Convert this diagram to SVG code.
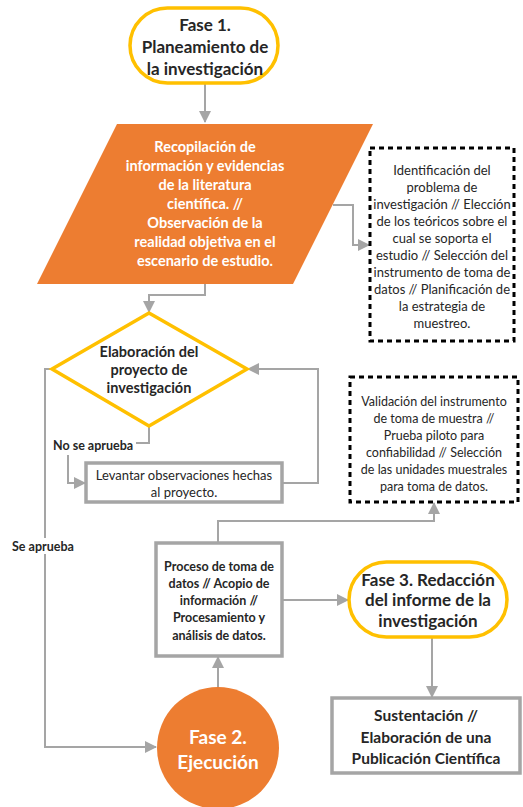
<svg xmlns="http://www.w3.org/2000/svg" width="523" height="807" viewBox="0 0 523 807">
<defs>
<marker id="ah" markerUnits="userSpaceOnUse" markerWidth="12" markerHeight="12" viewBox="0 0 12 12" refX="11" refY="6" orient="auto">
<path d="M0,0 L12,6 L0,12 Z" fill="#A5A5A5"/>
</marker>
</defs>
<style>
text{font-family:Lato,"Open Sans","Liberation Sans",sans-serif;text-anchor:middle;fill:#262626}
.b{font-weight:bold}
.w{fill:#FFFFFF;font-weight:bold}
.stad{fill:#FFFFFF;stroke:#FFC000;stroke-width:3.5}
.gbox{fill:#FFFFFF;stroke:#A5A5A5;stroke-width:3.5}
.dash{fill:#FFFFFF;stroke:#000000;stroke-width:3;stroke-dasharray:5 4}
.c{fill:none;stroke:#A5A5A5;stroke-width:2}
.lbl{font-weight:bold;font-size:12.5px;text-anchor:start}
</style>
<rect width="523" height="807" fill="#FFFFFF"/>
<g id="connectors">
<path class="c" d="M205,83 V122" marker-end="url(#ah)"/>
<path class="c" d="M333,205 H353 V245 H369" marker-end="url(#ah)"/>
<path class="c" d="M205,284 V295 H149 V312" marker-end="url(#ah)"/>
<path class="c" d="M149,426 V443 H136"/>
<path class="c" d="M68,455 V483 H85" marker-end="url(#ah)"/>
<path class="c" d="M282,483 H318 V369 H248" marker-end="url(#ah)"/>
<path class="c" d="M52,369 H45 V747 H156" marker-end="url(#ah)"/>
<path class="c" d="M218,687 V657" marker-end="url(#ah)"/>
<path class="c" d="M218,543 V521 H434 V503" marker-end="url(#ah)"/>
<path class="c" d="M282,600 H348" marker-end="url(#ah)"/>
<path class="c" d="M432,637 V697" marker-end="url(#ah)"/>
</g>
<g id="fase1">
<rect class="stad" x="130" y="8" width="148" height="75" rx="37.5"/>
<text class="b" font-size="17" x="205" y="31">Fase 1.</text>
<text class="b" font-size="17" x="205" y="53">Planeamiento de</text>
<text class="b" font-size="17" x="205" y="75">la investigación</text>
</g>
<g id="recopilacion">
<polygon points="117,124 373,124 293,284 37,284" fill="#ED7D31"/>
<text class="w" font-size="14.5" x="205" y="152">Recopilación de</text>
<text class="w" font-size="14.5" x="205" y="171">información y evidencias</text>
<text class="w" font-size="14.5" x="205" y="190">de la literatura</text>
<text class="w" font-size="14.5" x="205" y="209">científica. //</text>
<text class="w" font-size="14.5" x="205" y="228">Observación de la</text>
<text class="w" font-size="14.5" x="205" y="247">realidad objetiva en el</text>
<text class="w" font-size="14.5" x="205" y="266">escenario de estudio.</text>
</g>
<g id="nota1">
<rect class="dash" x="370" y="148" width="144" height="193"/>
<text font-size="13" x="442" y="175">Identificación del</text>
<text font-size="13" x="442" y="192">problema de</text>
<text font-size="13" x="442" y="209">investigación // Elección</text>
<text font-size="13" x="442" y="226">de los teóricos sobre el</text>
<text font-size="13" x="442" y="243">cual se soporta el</text>
<text font-size="13" x="442" y="260">estudio // Selección del</text>
<text font-size="13" x="442" y="277">instrumento de toma de</text>
<text font-size="13" x="442" y="294">datos // Planificación de</text>
<text font-size="13" x="442" y="311">la estrategia de</text>
<text font-size="13" x="442" y="328">muestreo.</text>
</g>
<g id="elaboracion">
<polygon points="149,313 247,369 149,426 52,369" fill="#FFFFFF" stroke="#FFC000" stroke-width="3.5" stroke-linejoin="miter"/>
<text class="b" font-size="14.5" x="149" y="357">Elaboración del</text>
<text class="b" font-size="14.5" x="149" y="375">proyecto de</text>
<text class="b" font-size="14.5" x="149" y="393">investigación</text>
</g>
<g id="lbl-no">
<text class="lbl" x="53" y="450">No se aprueba</text>
</g>
<g id="levantar">
<rect class="gbox" x="86" y="463" width="196" height="39"/>
<text font-size="13" x="184" y="480">Levantar observaciones hechas</text>
<text font-size="13" x="184" y="497">al proyecto.</text>
</g>
<g id="nota2">
<rect class="dash" x="350" y="377" width="168" height="125"/>
<text font-size="12.5" x="434" y="406">Validación del instrumento</text>
<text font-size="12.5" x="434" y="423">de toma de muestra //</text>
<text font-size="12.5" x="434" y="440">Prueba piloto para</text>
<text font-size="12.5" x="434" y="457">confiabilidad // Selección</text>
<text font-size="12.5" x="434" y="474">de las unidades muestrales</text>
<text font-size="12.5" x="434" y="491">para toma de datos.</text>
</g>
<g id="lbl-si">
<rect x="10" y="538" width="70" height="16" fill="#FFFFFF"/>
<text class="lbl" x="12" y="551">Se aprueba</text>
</g>
<g id="proceso">
<rect class="gbox" x="156" y="543" width="126" height="113"/>
<text class="b" font-size="12.5" x="219" y="571">Proceso de toma de</text>
<text class="b" font-size="12.5" x="219" y="588">datos // Acopio de</text>
<text class="b" font-size="12.5" x="219" y="605">información //</text>
<text class="b" font-size="12.5" x="219" y="622">Procesamiento y</text>
<text class="b" font-size="12.5" x="219" y="640">análisis de datos.</text>
</g>
<g id="fase3">
<rect class="stad" x="349" y="562" width="158" height="75" rx="37.5"/>
<text class="b" font-size="17" x="428" y="586">Fase 3. Redacción</text>
<text class="b" font-size="17" x="428" y="606">del informe de la</text>
<text class="b" font-size="17" x="428" y="627">investigación</text>
</g>
<g id="fase2">
<circle cx="218" cy="748" r="61" fill="#ED7D31"/>
<text class="w" font-size="19" x="218" y="744">Fase 2.</text>
<text class="w" font-size="19" x="218" y="769">Ejecución</text>
</g>
<g id="sustentacion">
<rect class="gbox" x="332" y="698" width="188" height="75"/>
<text class="b" font-size="15.5" x="426" y="721">Sustentación //</text>
<text class="b" font-size="15.5" x="426" y="743">Elaboración de una</text>
<text class="b" font-size="15.5" x="426" y="764">Publicación Científica</text>
</g>
</svg>
